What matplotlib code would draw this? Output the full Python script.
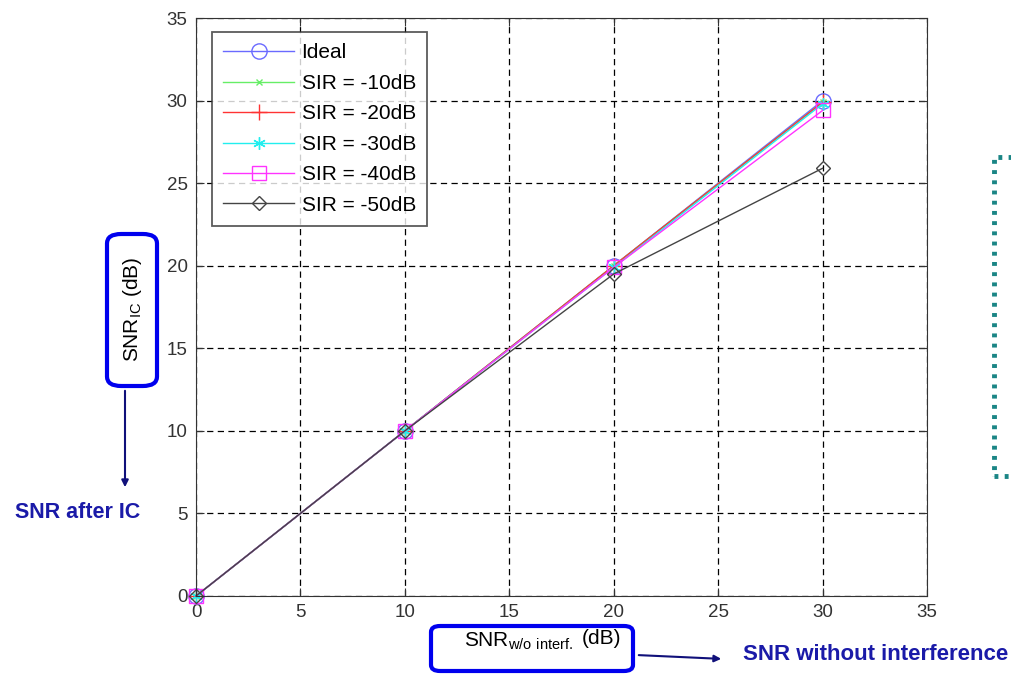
import matplotlib
matplotlib.use("Agg")
import matplotlib.pyplot as plt
from matplotlib.patches import FancyBboxPatch, Rectangle, FancyArrowPatch

plt.rcParams['font.family'] = ['Liberation Sans', 'DejaVu Sans']
plt.rcParams['mathtext.fontset'] = 'custom'
plt.rcParams['mathtext.rm'] = 'Liberation Sans'

snr_wo = [0, 10, 20, 30]
series_labels = ['Ideal', 'SIR = -10dB', 'SIR = -20dB', 'SIR = -30dB', 'SIR = -40dB', 'SIR = -50dB']
series_values = [
    [0, 10, 20, 30],
    [0, 10, 20, 29.9],
    [0, 10, 20, 29.9],
    [0, 10, 19.9, 29.8],
    [0, 10, 19.9, 29.4],
    [0, 10, 19.5, 25.9],
]
colors = ['#6a6aff', '#66ee66', '#ff3333', '#22eeee', '#ff33ff', '#444444']
markers = ['o', 'x', '+', (6, 2, 0), 's', 'D']
msizes = [11, 4.5, 11, 9, 10, 7]
xticks = [0, 5, 10, 15, 20, 25, 30, 35]
yticks = [0, 5, 10, 15, 20, 25, 30, 35]

fig = plt.figure(figsize=(10.11, 6.75), dpi=100)
ax = fig.add_axes([196/1011, 79/675, (927-196)/1011, (596-18)/675])

for lab, vals, c, m, ms in zip(series_labels, series_values, colors, markers, msizes):
    ax.plot(snr_wo, vals, color=c, marker=m, markersize=ms, markerfacecolor='none',
            markeredgecolor=c, linewidth=1.0, label=lab, clip_on=False)

ax.set_xlim(0, 35)
ax.set_ylim(0, 35)
ax.set_xticks(xticks)
ax.set_yticks(yticks)
ax.tick_params(direction='in', top=True, right=True, labelsize=13.5, length=6, pad=6,
               colors='#333333')
ax.grid(True, color='black', linestyle=(0, (5, 3.5)), linewidth=0.9)
for s in ax.spines.values():
    s.set_color('#333333')

leg = ax.legend(loc='upper left', fontsize=15, frameon=True, fancybox=False,
                edgecolor='#333333', borderpad=0.55, labelspacing=0.55, handlelength=3.4,
                handletextpad=0.35, borderaxespad=0.0,
                bbox_to_anchor=((212-196)/731, (596-32)/578))
leg.get_frame().set_linewidth(1.3)

navy = '#1a1aa8'
# Y label box
ybox = FancyBboxPatch((107/1011, 1 - 386/675), (157-107)/1011, (386-234)/675,
                      boxstyle='round,pad=0.0,rounding_size=0.014', transform=fig.transFigure,
                      facecolor='white', edgecolor='#0000ee', linewidth=3, clip_on=False)
fig.patches.append(ybox)
fig.text(132/1011, 1 - 309/675, r'SNR$_{\mathregular{IC}}$ (dB)', rotation=90, ha='center',
         va='center', fontsize=15)
fig.add_artist(FancyArrowPatch((125/1011, 1 - 388/675), (125/1011, 1 - 490/675),
               transform=fig.transFigure, arrowstyle='-|>', mutation_scale=10,
               color='#10107a', linewidth=1.5))
fig.text(78/1011, 1 - 512/675, 'SNR after IC', ha='center', va='center', fontsize=15.5,
         fontweight='bold', color=navy)

# X label box
xbox = FancyBboxPatch((431/1011, 1 - 671/675), (633-431)/1011, (671-626)/675,
                      boxstyle='round,pad=0.0,rounding_size=0.009', transform=fig.transFigure,
                      facecolor='white', edgecolor='#0000ee', linewidth=3, clip_on=False)
fig.patches.append(xbox)
fig.text(464/1011, 1 - 641/675, r'SNR$_{\mathregular{w/o\ interf.}}$', ha='left',
         va='center', fontsize=15)
fig.text(621/1011, 1 - 638/675, '(dB)', ha='right', va='center', fontsize=15)
fig.add_artist(FancyArrowPatch((636/1011, 1 - 655/675), (724/1011, 1 - 659/675),
               transform=fig.transFigure, arrowstyle='-|>', mutation_scale=10,
               color='#10107a', linewidth=1.5))
fig.text(876/1011, 1 - 655/675, 'SNR without interference', ha='center', va='center',
         fontsize=16, fontweight='bold', color=navy)

# dotted teal bracket
br = Rectangle((994/1011, 1 - 476/675), 40/1011, (476-157)/675, transform=fig.transFigure,
               facecolor='none', edgecolor='#1a8585', linewidth=3.5, linestyle=(0, (0.8, 1.3)),
               clip_on=False)
fig.patches.append(br)

fig.savefig('out.png', dpi=100)
